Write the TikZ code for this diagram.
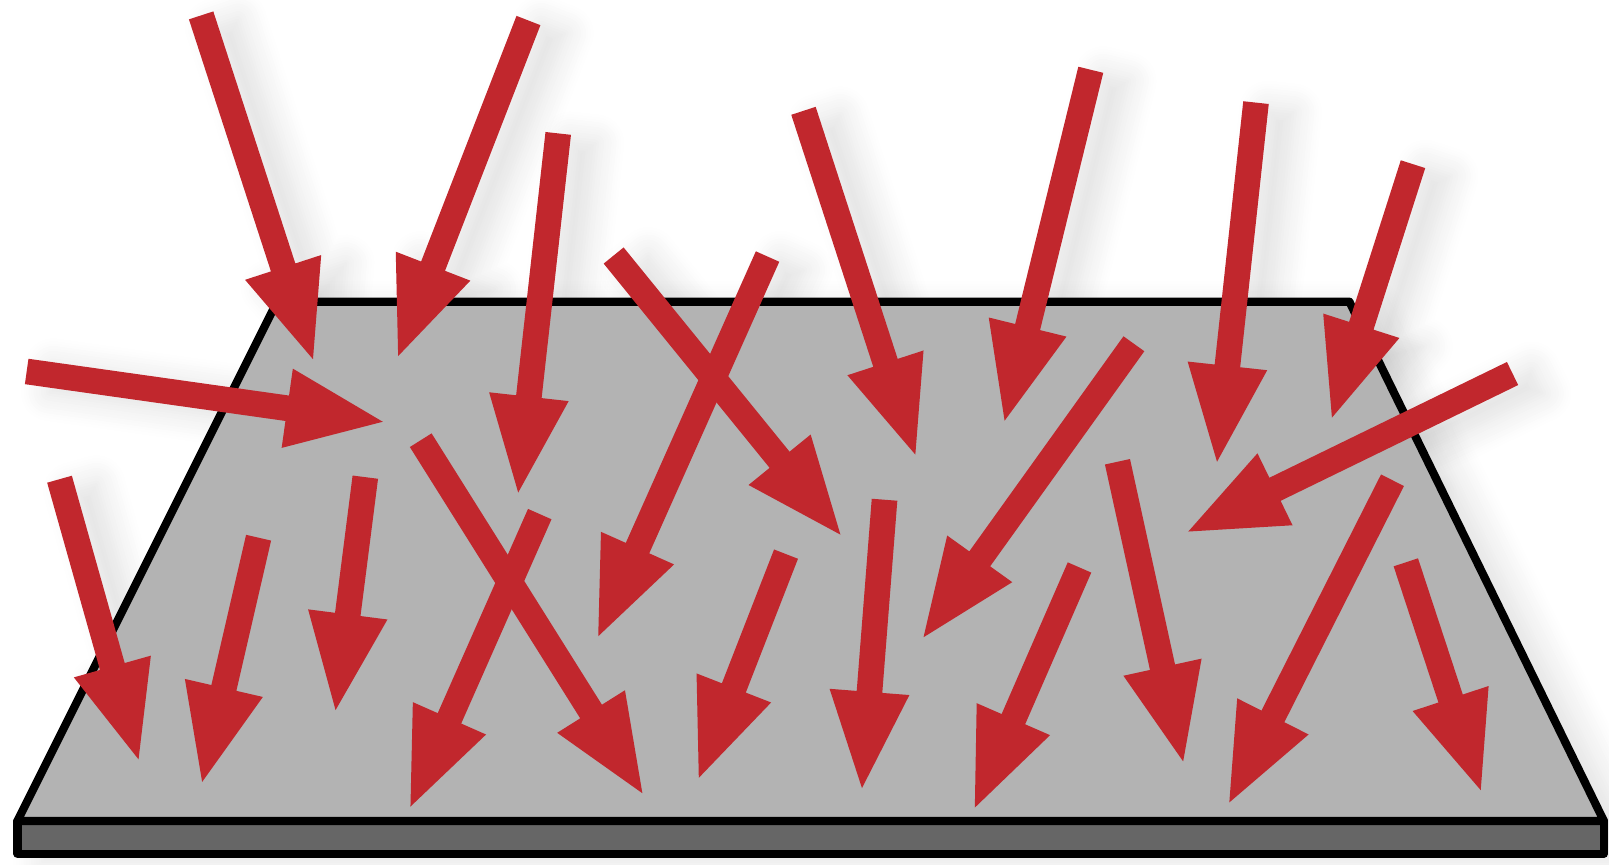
\documentclass[tikz,border=0pt]{standalone}
\usetikzlibrary{calc,shadows.blur}
\definecolor{arrowred}{HTML}{C1272D}
\definecolor{plategray}{HTML}{B3B3B3}
\definecolor{slabgray}{HTML}{666666}
\tikzset{
  platestyle/.style={fill=plategray, draw=black, line width=0.8mm, line join=round},
  slabstyle/.style={fill=slabgray, draw=black, line width=0.8mm, line join=round},
  plateshadow/.style={blur shadow={shadow xshift=2.4mm, shadow yshift=-0.8mm, shadow blur radius=2.8mm, shadow blur steps=12, shadow opacity=12}},
  arrowfill/.style={fill=arrowred},
  arrowshadow/.style={blur shadow={shadow xshift=2.4mm, shadow yshift=-0.8mm, shadow blur radius=2.8mm, shadow blur steps=12, shadow opacity=13}}
}
\begin{document}
\begin{tikzpicture}[x=0.1mm,y=-0.1mm]
\useasboundingbox (0,0) rectangle (1568,842);
% arrow data: tail x, tail y, tip x, tip y
\def\arrowlist{196/15/305/350, 515/20/388/347, 544/130/505/480, 26/362/373/411,
  598/249/819/521, 748/250/583/620, 783/108/892/443, 1063/68/979/410,
  1224/100/1186/450, 1377/160/1298/407, 1474/364/1158/518, 1105/335/900/621,
  410/429/626/773, 526/501/400/786, 58/467/135/740, 252/524/197/762,
  356/465/327/692, 766/540/681/758, 862/487/840/768, 1052/553/950/787,
  1089/450/1153/742, 1357/468/1198/782, 1370/548/1443/770}
% shadows first (under the plate)
\path[plateshadow] (270,294) -- (1315,294) -- (1563,800) -- (1563,832) -- (17,832) -- (17,800) -- cycle;
\foreach \a/\b/\c/\d in \arrowlist {
  \coordinate (t) at (\a,\b);
  \coordinate (h) at (\c,\d);
  \coordinate (c) at ($(h)!9.4mm!(t)$);
  \path[arrowshadow] ($(t)!1.25mm!90:(h)$) -- ($(c)!1.25mm!-90:(t)$) -- ($(c)!3.9mm!-90:(t)$) -- (h) -- ($(c)!3.9mm!90:(t)$) -- ($(c)!1.25mm!90:(t)$) -- ($(t)!1.25mm!-90:(h)$) -- cycle;
}
% plate
\draw[slabstyle] (17,800) rectangle (1563,832);
\draw[platestyle] (270,294) -- (1315,294) -- (1563,800) -- (17,800) -- cycle;
% arrows
\foreach \a/\b/\c/\d in \arrowlist {
  \coordinate (t) at (\a,\b);
  \coordinate (h) at (\c,\d);
  \coordinate (c) at ($(h)!9.4mm!(t)$);
  \fill[arrowfill] ($(t)!1.25mm!90:(h)$) -- ($(c)!1.25mm!-90:(t)$) -- ($(c)!3.9mm!-90:(t)$) -- (h) -- ($(c)!3.9mm!90:(t)$) -- ($(c)!1.25mm!90:(t)$) -- ($(t)!1.25mm!-90:(h)$) -- cycle;
}
\end{tikzpicture}
\end{document}
